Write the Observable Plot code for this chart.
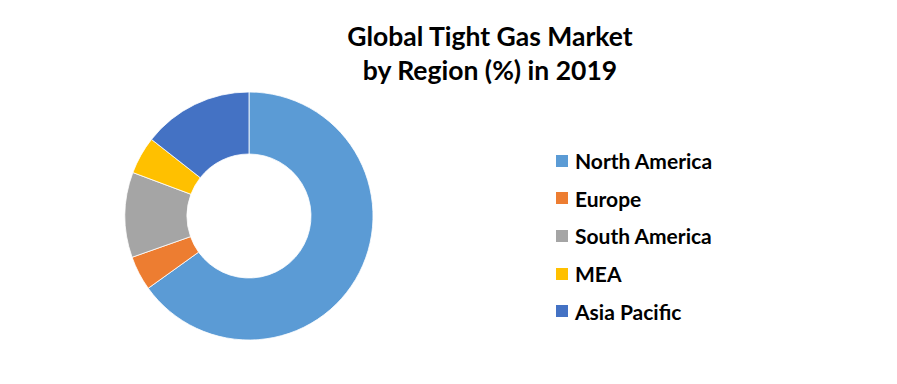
<!DOCTYPE html>
<html>
<head>
<meta charset="utf-8">
<script src="https://cdn.jsdelivr.net/npm/d3@7"></script>
<script src="https://cdn.jsdelivr.net/npm/@observablehq/plot@0.6"></script>
<style>
  html, body { margin: 0; padding: 0; background: #fff; }
  #wrap { position: relative; width: 897px; height: 384px; font-family: Lato, "Open Sans", sans-serif; }
  #title { position: absolute; left: 290px; width: 400px; top: 19px; text-align: center; font-weight: 700; font-size: 26.5px; line-height: 34px; color: #000; }
  #legend { position: absolute; left: 556px; top: 142px; }
  .row { display: flex; align-items: center; height: 37.6px; font-weight: 700; font-size: 21px; color: #000; }
  .sw { width: 12px; height: 12px; margin-right: 7px; }
  #chart { position: absolute; left: 0; top: 0; }
</style>
</head>
<body>
<div id="wrap">
  <div id="chart"></div>
  <div id="title">Global Tight Gas Market<br>by Region (%) in 2019</div>
  <div id="legend"></div>
</div>
<script>
const regions = ["North America", "Europe", "South America", "MEA", "Asia Pacific"];
const shares = [65.1, 4.5, 11.1, 4.9, 14.4];
const colors = ["#5B9BD5", "#ED7D31", "#A5A5A5", "#FFC000", "#4472C4"];

const data = regions.map((r, i) => ({region: r, share: shares[i]}));

const donut = (index, scales) => {
  const cx = scales.x(0), cy = scales.y(0);
  const R = Math.abs(scales.x(1) - scales.x(0));
  const arcs = d3.pie().sort(null).value(d => d.share)(data);
  const arc = d3.arc().outerRadius(R).innerRadius(R * 0.5);
  const g = d3.create("svg:g").attr("transform", `translate(${cx},${cy})`);
  g.selectAll("path").data(arcs).join("path")
    .attr("d", arc)
    .attr("fill", d => scales.color(d.data.region))
    .attr("stroke", "#fff")
    .attr("stroke-width", 0.8);
  return g.node();
};

const plot = Plot.plot({
  width: 897,
  height: 384,
  margin: 0,
  x: {domain: [-1, 1], range: [125, 373], axis: null},
  y: {domain: [-1, 1], range: [340, 92], axis: null},
  color: {domain: regions, range: colors},
  marks: [donut]
});
document.getElementById("chart").appendChild(plot);

const legend = d3.select("#legend");
regions.forEach((r, i) => {
  const row = legend.append("div").attr("class", "row");
  row.append("div").attr("class", "sw").style("background", colors[i]);
  row.append("span").text(r);
});
</script>
</body>
</html>
